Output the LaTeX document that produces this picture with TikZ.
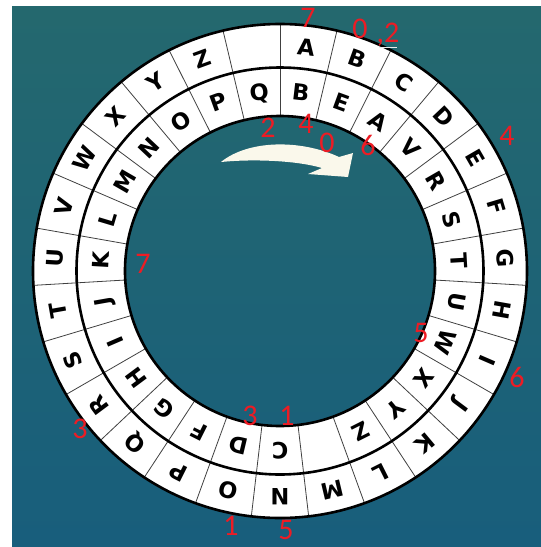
\documentclass[tikz,border=0pt]{standalone}
\usepackage{fontspec}
\usetikzlibrary{calc}
\newfontfamily\lettfont{DejaVu Sans}
\newfontfamily\numfont{Carlito}
\definecolor{bgtop}{RGB}{36,104,110}
\definecolor{bgbot}{RGB}{24,94,124}
\definecolor{arrowc}{RGB}{250,248,235}
\definecolor{digitred}{RGB}{237,28,36}
\tikzset{
  lett/.style={font=\lettfont\bfseries\fontsize{22.5}{22.5}\selectfont, inner sep=0pt, text height=16.3pt, text depth=0pt},
  digit/.style={font=\numfont\fontsize{30}{30}\selectfont, text=digitred, inner sep=0pt, anchor=base},
  ringline/.style={line width=2.6pt, black},
  spoke/.style={line width=0.8pt, black!75}
}
\begin{document}
\begin{tikzpicture}[x=1pt,y=1pt]
\useasboundingbox (0,0) rectangle (541,-547);
\fill[white] (0,0) rectangle (541,-547);
\shade[top color=bgtop, bottom color=bgbot] (12,-6) rectangle (541,-547);
\coordinate (O) at (280,-271);
% white annulus
\fill[white, even odd rule] (O) circle (247) (O) circle (155);
% spokes
\foreach \k in {0,...,26}{
  \pgfmathsetmacro\ang{90-\k*360/27}
  \draw[spoke] ($(O)+(\ang:155)$) -- ($(O)+(\ang:247)$);
}
% circles
\draw[ringline] (O) circle (247);
\draw[ringline] (O) circle (203.5);
\draw[ringline] (O) circle (155);
% outer letters
\foreach \L [count=\i from 0] in {A,B,C,D,E,F,G,H,I,J,K,L,M,N,O,P,Q,R,S,T,U,V,W,X,Y,Z,{}}{
  \pgfmathsetmacro\ang{90-(\i+0.5)*360/27}
  \node[lett, rotate=\ang-90] (o\i) at ($(O)+(\ang:225.5)$) {\L};
}
% inner letters
\foreach \L [count=\i from 0] in {B,E,A,V,R,S,T,U,W,X,Y,Z,{},C,D,F,G,H,I,J,K,L,M,N,O,P,Q}{
  \pgfmathsetmacro\ang{90-(\i+0.5)*360/27}
  \node[lett, rotate=\ang-90] (n\i) at ($(O)+(\ang:179.5)$) {\L};
}
% curved arrow
\fill[arrowc] (221,-162) .. controls (248,-140) and (300,-139) .. (339,-157)
  -- (353,-153) -- (348,-177) -- (308,-174) -- (322,-168)
  .. controls (295,-160) and (250,-159) .. (221,-162) -- cycle;
% red digits
\node[digit] (d1) at (308,-27) {7};
\node[digit] (d2) at (360,-38) {0};
\node[digit] (d3) at (388,-42) {,2};
\draw[white!85!gray, line width=0.8pt] (379,-47) -- (397,-47);
\node[digit] (d4) at (268,-137) {2};
\node[digit] (d5) at (306,-133) {4};
\node[digit] (d6) at (327,-152) {0};
\node[digit] (d7) at (368,-155) {6};
\node[digit] (d8) at (507,-145) {4};
\node[digit] (d9) at (143,-273) {7};
\node[digit] (d10) at (421,-342) {5};
\node[digit] (d11) at (517,-387) {6};
\node[digit] (d12) at (80,-438) {3};
\node[digit] (d13) at (250,-425) {3};
\node[digit] (d14) at (287,-425) {1};
\node[digit] (d15) at (231,-535) {1};
\node[digit] (d16) at (286,-539.5) {5};
\end{tikzpicture}
\end{document}
